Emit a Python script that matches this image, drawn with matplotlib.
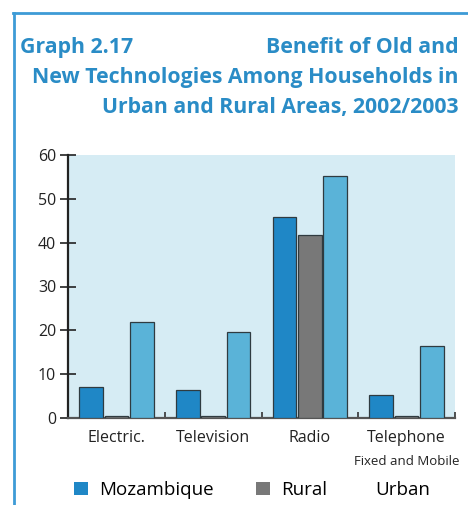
import numpy as np
import matplotlib.pyplot as plt
from matplotlib.lines import Line2D
from matplotlib.patches import Patch

# data
categories = ['Electric.', 'Television', 'Radio', 'Telephone']
sublabels = ['', '', '', 'Fixed and Mobile']
series = ['Mozambique', 'Rural', 'Urban']
mozambique = [7.0, 6.4, 45.8, 5.2]
rural = [0.5, 0.5, 41.8, 0.5]
urban = [21.8, 19.6, 55.2, 16.5]
yticks = [0, 10, 20, 30, 40, 50, 60]

colors = ['#1f87c6', '#787878', '#5ab3d8']
title_color = '#2a8cc6'
W, H = 468, 505

plt.rcParams['font.family'] = ['Open Sans', 'DejaVu Sans']

fig = plt.figure(figsize=(W / 100, H / 100), dpi=100)
# axes box in pixels: left 68, right 455, top 155, bottom 418
ax = fig.add_axes([68 / W, 1 - 418 / H, (455 - 68) / W, (418 - 155) / H])
ax.set_facecolor('#d6ecf4')

x = np.arange(len(categories))
width = 0.245
offsets = [-0.262, 0.0, 0.262]
for vals, off, c in zip([mozambique, rural, urban], offsets, colors):
    ax.bar(x + off, vals, width, color=c, edgecolor='#2f3b40', linewidth=0.9, zorder=3)

ax.set_xlim(-0.5, len(categories) - 0.5)
ax.set_ylim(0, 60)
ax.set_yticks(yticks)
ax.tick_params(axis='y', direction='inout', length=11, width=1.2, colors='#222222',
               labelsize=11.5, pad=3)
ax.set_xticks(np.arange(len(categories) + 1) - 0.5)
ax.set_xticklabels([])
ax.tick_params(axis='x', direction='in', length=4, width=1.2, colors='#333333')
for s in ['top', 'right']:
    ax.spines[s].set_visible(False)
ax.spines['left'].set_linewidth(1.6)
ax.spines['left'].set_color('#222222')
ax.spines['bottom'].set_linewidth(1.6)
ax.spines['bottom'].set_color('#555555')

for i, (lab, sub) in enumerate(zip(categories, sublabels)):
    ax.text(i, -4.6, lab, ha='center', va='center', fontsize=11.5, color='#222222')
    if sub:
        ax.text(i, -9.9, sub, ha='center', va='center', fontsize=9.5, color='#222222')

# title
fig.text(20 / W, 1 - 53 / H, 'Graph 2.17', ha='left', va='baseline', fontsize=15.3,
         fontweight='bold', color=title_color)
title_lines = ['Benefit of Old and', 'New Technologies Among Households in',
               'Urban and Rural Areas, 2002/2003']
for k, line in enumerate(title_lines):
    fig.text(459 / W, 1 - (53 + 30 * k) / H, line, ha='right', va='baseline',
             fontsize=15.3, fontweight='bold', color=title_color)

# frame border
fig.add_artist(Line2D([13 / W, 1], [1 - 13 / H, 1 - 13 / H], color='#3d9bd6', lw=2))
fig.add_artist(Line2D([14 / W, 14 / W], [1 - 13 / H, 0], color='#3d9bd6', lw=2))

# legend (urban swatch is blank in the reference)
legend_colors = [colors[0], colors[1], 'white']
legend_x = [74, 256, 350]
for name, c, lx in zip(series, legend_colors, legend_x):
    fig.legend(handles=[Patch(facecolor=c, edgecolor='none')], labels=[name],
               loc='center left', bbox_to_anchor=(lx / W, 1 - 490 / H), frameon=False,
               fontsize=13.5, handlelength=0.75, handleheight=0.75, handletextpad=0.6,
               borderpad=0, borderaxespad=0)

fig.savefig('out.png', dpi=100)
